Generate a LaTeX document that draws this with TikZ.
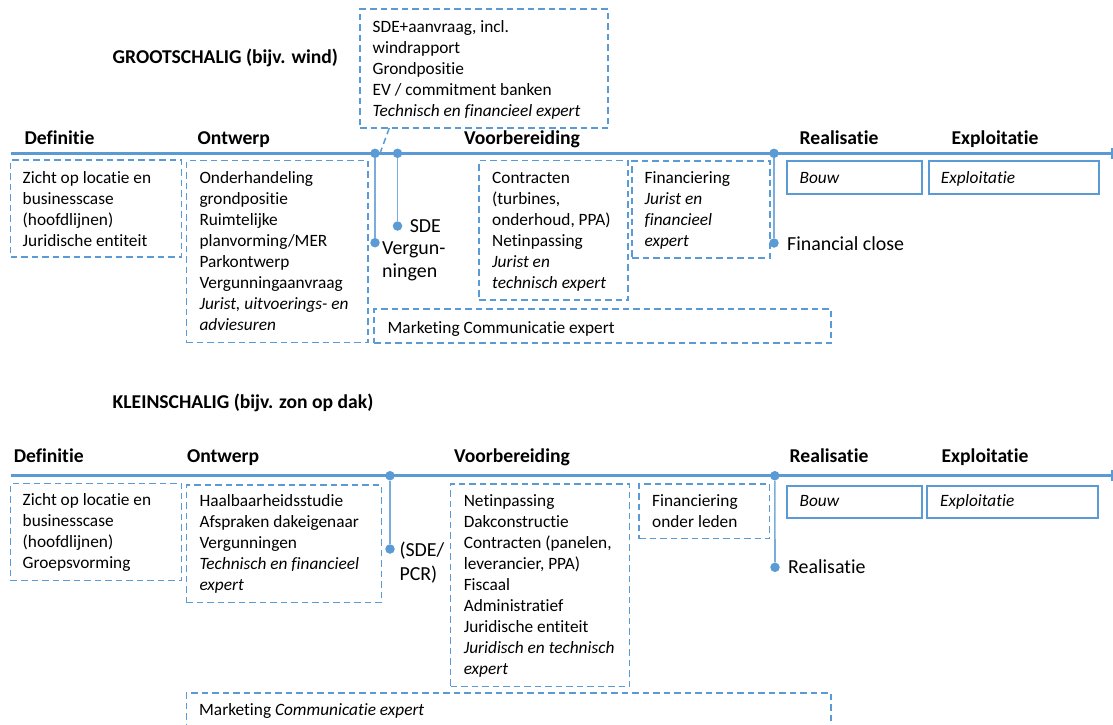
\documentclass[tikz,border=0pt]{standalone}
\usepackage{fontspec}
\setmainfont{Carlito}[Ligatures=NoCommon]
\usetikzlibrary{arrows.meta}
\definecolor{lblue}{HTML}{5B9BD5}
\definecolor{vblue}{HTML}{7AADDD}
\newcommand{\sA}{\rule{0pt}{16pt}}
\newcommand{\sB}{\rule{0pt}{18pt}}
\tikzset{
  dbox/.style={draw=lblue, line width=1.5pt, dash pattern=on 6.5pt off 4pt, rectangle, inner sep=0pt, outer sep=0pt, anchor=north west},
  sbox/.style={draw=lblue, line width=2pt, rectangle, inner sep=0pt, outer sep=0pt, anchor=north west},
  btxt/.style={font=\fontsize{17.3}{21}\selectfont, align=left, inner sep=0pt, anchor=north west, yshift=16pt},
  phase/.style={font=\fontsize{19.6}{24}\selectfont\bfseries, inner sep=0pt, anchor=base west},
  mlabel/.style={font=\fontsize{19.9}{23.5}\selectfont, align=left, inner sep=0pt, anchor=north west, yshift=18pt},
  tline/.style={draw=lblue, line width=3pt},
  vline/.style={draw=vblue, line width=1.6pt},
  dotn/.style={circle, fill=lblue, inner sep=0pt, minimum size=9.5pt},
}
\begin{document}
\begin{tikzpicture}[x=1pt,y=-1pt]
\useasboundingbox (0,0) rectangle (1113,724);
% ================= TOP: GROOTSCHALIG =================
\node[phase] (title1) at (112.5,63) {GROOTSCHALIG (bijv. wind)};
\coordinate (tl1s) at (10.5,153.3);
\coordinate (tl1e) at (1113,153.3);
\draw[tline, -{Bar[width=11pt,line width=2pt]}] (tl1s) -- (tl1e);
\node[phase] (p1a) at (24.3,144) {Definitie};
\node[phase] (p1b) at (197.5,144) {Ontwerp};
\node[phase] (p1c) at (464,144) {Voorbereiding};
\node[phase] (p1d) at (799.5,144) {Realisatie};
\node[phase] (p1e) at (951.4,144) {Exploitatie};
% boxes
\node[dbox, minimum width=170.7pt, minimum height=97pt] (a1) at (10.7,160) {};
\node[btxt] (a1t) at (22.5,183) {\sA Zicht op locatie en\\businesscase\\(hoofdlijnen)\\Juridische entiteit};
\node[dbox, minimum width=181.6pt, minimum height=182pt] (a2) at (186.4,160.7) {};
\node[btxt] (a2t) at (199.3,183) {\sA Onderhandeling\\grondpositie\\Ruimtelijke\\planvorming/MER\\Parkontwerp\\Vergunningaanvraag\\\textit{Jurist, uitvoerings- en}\\\textit{adviesuren}};
\node[dbox, minimum width=248pt, minimum height=119pt] (a3) at (360,9) {};
\node[btxt] (a3t) at (372.5,32) {\sA SDE+aanvraag, incl.\\windrapport\\Grondpositie\\EV / commitment banken\\\textit{Technisch en financieel expert}};
\node[dbox, minimum width=149pt, minimum height=139.5pt] (a4) at (479,160.5) {};
\node[btxt] (a4t) at (492,183) {\sA Contracten\\(turbines,\\onderhoud, PPA)\\Netinpassing\\\textit{Jurist en}\\\textit{technisch expert}};
\node[dbox, minimum width=138pt, minimum height=97pt] (a5) at (632,161) {};
\node[btxt] (a5t) at (644.4,183) {\sA Financiering\\\textit{Jurist en}\\\textit{financieel}\\\textit{expert}};
\node[sbox, minimum width=135pt, minimum height=33pt] (a6) at (786.6,161) {};
\node[btxt] (a6t) at (799.5,183) {\sA\textit{Bouw}};
\node[sbox, minimum width=170.9pt, minimum height=33pt] (a7) at (928.5,161) {};
\node[btxt] (a7t) at (940.7,183) {\sA\textit{Exploitatie}};
\node[dbox, minimum width=457pt, minimum height=34pt] (a8) at (374,309) {};
\node[btxt] (a8t) at (387.5,333) {\sA Marketing Communicatie expert};
% milestones
\node[dotn] (d1) at (375,153.3) {};
\node[dotn] (d1b) at (375,242.7) {};
\node[dotn] (d2) at (397.5,153.3) {};
\node[dotn] (d2b) at (397.5,226) {};
\node[dotn] (d3) at (774,153.3) {};
\node[dotn] (d3b) at (774,243) {};
\draw[vline] (d1) -- (d1b);
\draw[vline] (d2) -- (d2b);
\draw[vline] (d3) -- (d3b);
\coordinate (lead1) at (389.3,128);
\coordinate (lead2) at (380.5,152);
\draw[draw=lblue, line width=1.5pt, dash pattern=on 6.5pt off 4pt] (lead1) -- (lead2);
\node[mlabel] (m1) at (409.6,232.5) {\sB SDE};
\node[mlabel] (m2) at (382,254) {\sB Vergun-\\ningen};
\node[mlabel] (m3) at (787,250) {\sB Financial close};
% ================= BOTTOM: KLEINSCHALIG =================
\node[phase] (title2) at (112.5,408) {KLEINSCHALIG (bijv. zon op dak)};
\coordinate (tl2s) at (10.5,475.7);
\coordinate (tl2e) at (1113,475.7);
\draw[tline, -{Bar[width=11pt,line width=2pt]}] (tl2s) -- (tl2e);
\node[phase] (p2a) at (13.6,462) {Definitie};
\node[phase] (p2b) at (186.8,462) {Ontwerp};
\node[phase] (p2c) at (454,462) {Voorbereiding};
\node[phase] (p2d) at (789.5,462) {Realisatie};
\node[phase] (p2e) at (941.4,462) {Exploitatie};
\node[dbox, minimum width=170.7pt, minimum height=97.4pt] (b1) at (10.7,483.3) {};
\node[btxt] (b1t) at (22.5,505) {\sA Zicht op locatie en\\businesscase\\(hoofdlijnen)\\Groepsvorming};
\node[dbox, minimum width=195pt, minimum height=117.7pt] (b2) at (186.4,485) {};
\node[btxt] (b2t) at (199.3,506.7) {\sA Haalbaarheidsstudie\\Afspraken dakeigenaar\\Vergunningen\\\textit{Technisch en financieel}\\\textit{expert}};
\node[dbox, minimum width=179pt, minimum height=202.7pt] (b3) at (450.7,484) {};
\node[btxt] (b3t) at (463.6,506) {\sA Netinpassing\\Dakconstructie\\Contracten (panelen,\\leverancier, PPA)\\Fiscaal\\Administratief\\Juridische entiteit\\\textit{Juridisch en technisch}\\\textit{expert}};
\node[dbox, minimum width=130.7pt, minimum height=54.7pt] (b4) at (639,484) {};
\node[btxt] (b4t) at (652,506) {\sA Financiering\\onder leden};
\node[sbox, minimum width=135pt, minimum height=32.3pt] (b5) at (786.6,486) {};
\node[btxt] (b5t) at (799.5,506.7) {\sA\textit{Bouw}};
\node[sbox, minimum width=171.6pt, minimum height=32.3pt] (b6) at (926.7,486) {};
\node[btxt] (b6t) at (940,506.7) {\sA\textit{Exploitatie}};
\node[dbox, minimum width=644.6pt, minimum height=45pt] (b7) at (186.4,693) {};
\node[btxt] (b7t) at (199,715) {\sA Marketing \textit{Communicatie expert}};
\node[dotn] (e1) at (390,475.7) {};
\node[dotn] (e1b) at (390,549) {};
\node[dotn] (e2) at (774.8,475.7) {};
\node[dotn] (e2b) at (775,567.3) {};
\draw[vline] (e1) -- (e1b);
\draw[vline] (e2) -- (e2b);
\node[mlabel] (n1) at (399.3,556.7) {\sB(SDE/\\PCR)};
\node[mlabel] (n2) at (788,573.5) {\sB Realisatie};
\end{tikzpicture}
\end{document}
